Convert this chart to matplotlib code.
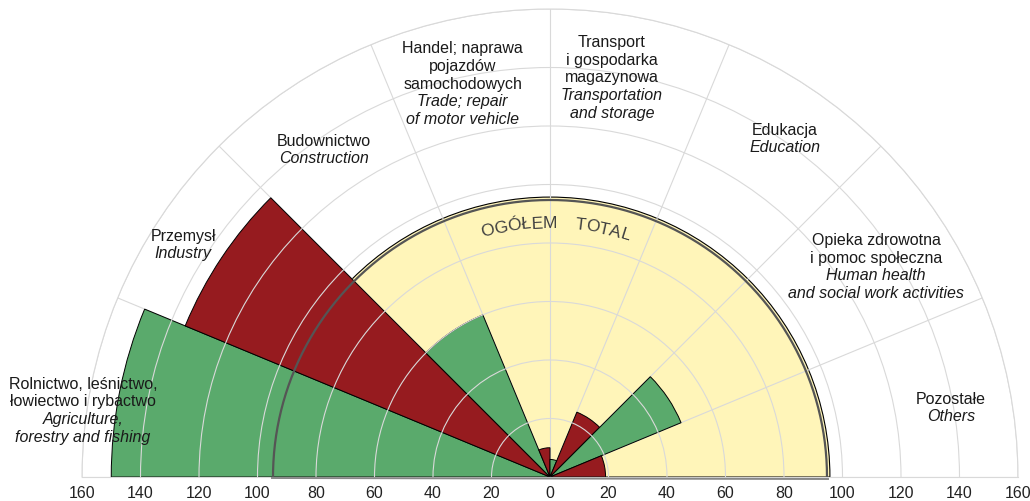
import matplotlib.pyplot as plt
import matplotlib.transforms as mtransforms
import numpy as np
from matplotlib.font_manager import FontProperties
from matplotlib.textpath import TextToPath

plt.rcParams['font.family'] = ['Liberation Sans', 'DejaVu Sans']

sectors_pl = [
    "Rolnictwo, leśnictwo,\nłowiectwo i rybactwo",
    "Przemysł",
    "Budownictwo",
    "Handel; naprawa\npojazdów\nsamochodowych",
    "Transport\ni gospodarka\nmagazynowa",
    "Edukacja",
    "Opieka zdrowotna\ni pomoc społeczna",
    "Pozostałe",
]
sectors_en = [
    "Agriculture,\nforestry and fishing",
    "Industry",
    "Construction",
    "Trade; repair\nof motor vehicle",
    "Transportation\nand storage",
    "Education",
    "Human health\nand social work activities",
    "Others",
]
values = [150, 135, 60, 10, 6, 24, 48.5, 19]
total = 95
total_label = ["OGÓŁEM", "TOTAL"]
r_ticks = [20, 40, 60, 80, 100, 120, 140, 160]

green = '#5aaa6c'
red = '#961b1f'
yellow = '#fff5b9'
grid_c = '#d9d9d9'

W, H, DPI = 1030, 502, 100
fig = plt.figure(figsize=(W / DPI, H / DPI), dpi=DPI)
# square box; the half disc sits in its middle band
R_px = 468
cx, cy = 550, 502 - 478
ax = fig.add_axes([(cx - R_px) / W, (cy + R_px / 2 - R_px) / H,
                   2 * R_px / W, 2 * R_px / H], projection='polar')
ax.set_thetamin(0)
ax.set_thetamax(180)
ax.set_ylim(0, 160)

n = len(values)
width = np.pi / n
theta = np.pi - width * (np.arange(n) + 0.5)
colors = [green if i % 2 == 0 else red for i in range(n)]

# total semicircle behind the bars
ax.bar(np.pi / 2, total + 0.7, width=np.pi, color=yellow, edgecolor='black',
       linewidth=0.8, zorder=0.5)
ax.bar(theta, values, width=width, color=colors, edgecolor='black',
       linewidth=0.7, zorder=1)

arc = np.linspace(0, np.pi, 400)
ax.plot(arc, np.full_like(arc, total - 0.3), color='#555555', lw=1.6, zorder=3)
shift = mtransforms.offset_copy(ax.transData, fig, y=-1.5, units='dots')
ax.plot([np.pi, 0], [total, total], color='#888888', lw=1.4, zorder=3,
        transform=shift, clip_on=False)

ax.set_xticks(np.deg2rad(np.arange(0, 181, 22.5)))
ax.set_xticklabels([])
ax.set_yticks(r_ticks)
ax.set_yticklabels([])
ax.set_axisbelow(False)
ax.grid(True, color=grid_c, lw=0.8)
# spokes under the bars so the bar edges stay black, circles on top
ax.xaxis.set_zorder(0.8)
for s in ax.spines.values():
    s.set_color(grid_c)
    s.set_linewidth(0.8)
ax.tick_params(length=0)

# radial scale along the bottom
for r in r_ticks:
    for t in (0, np.pi):
        ax.annotate(str(r), (t, r), xytext=(0, -11), textcoords='offset points',
                    ha='center', va='center', fontsize=11.5, color='#222222')
ax.annotate("0", (0, 0), xytext=(0, -11), textcoords='offset points',
            ha='center', va='center', fontsize=11.5, color='#222222')

# sector labels: (angle deg, radius) of block centre
label_pos = [(171.8, 161.3), (147.6, 148.6), (124.6, 136.2), (102.5, 137.9),
             (81.2, 138.4), (55.3, 141.0), (32.9, 132.8), (9.9, 139.2)]
lh = 12.7
for (a, r), pl, en in zip(label_pos, sectors_pl, sectors_en):
    lines = [(s, 'normal') for s in pl.split('\n')] + \
            [(s, 'italic') for s in en.split('\n')]
    k = len(lines)
    for i, (s, style) in enumerate(lines):
        ax.annotate(s, (np.deg2rad(a), r), xytext=(0, ((k - 1) / 2 - i) * lh),
                    textcoords='offset points', ha='center', va='center',
                    fontsize=11.5, style=style, color='#1a1a1a',
                    annotation_clip=False)

# curved "OGÓŁEM TOTAL"
fp = FontProperties(family='Liberation Sans', size=12.5)
ttp = TextToPath()
px_per_unit = R_px / 160
r_text = 85.5
r_px = r_text * px_per_unit
gap_px = 17.0
chars = []
for j, word in enumerate(total_label):
    for ch in word:
        w = ttp.get_text_width_height_descent(ch, fp, ismath=False)[0] * DPI / 72
        chars.append((ch, w))
    if j < len(total_label) - 1:
        chars.append(('', gap_px))
span = sum(w for _, w in chars)
start = np.deg2rad(88.7) + span / 2 / r_px
cum = 0
for ch, w in chars:
    ang = start - (cum + w / 2) / r_px
    cum += w
    if ch:
        ax.text(ang, r_text, ch, fontproperties=fp, color='#404040',
                rotation=np.rad2deg(ang) - 90, rotation_mode='anchor',
                ha='center', va='baseline', zorder=4)

fig.savefig('out.png', dpi=DPI)
